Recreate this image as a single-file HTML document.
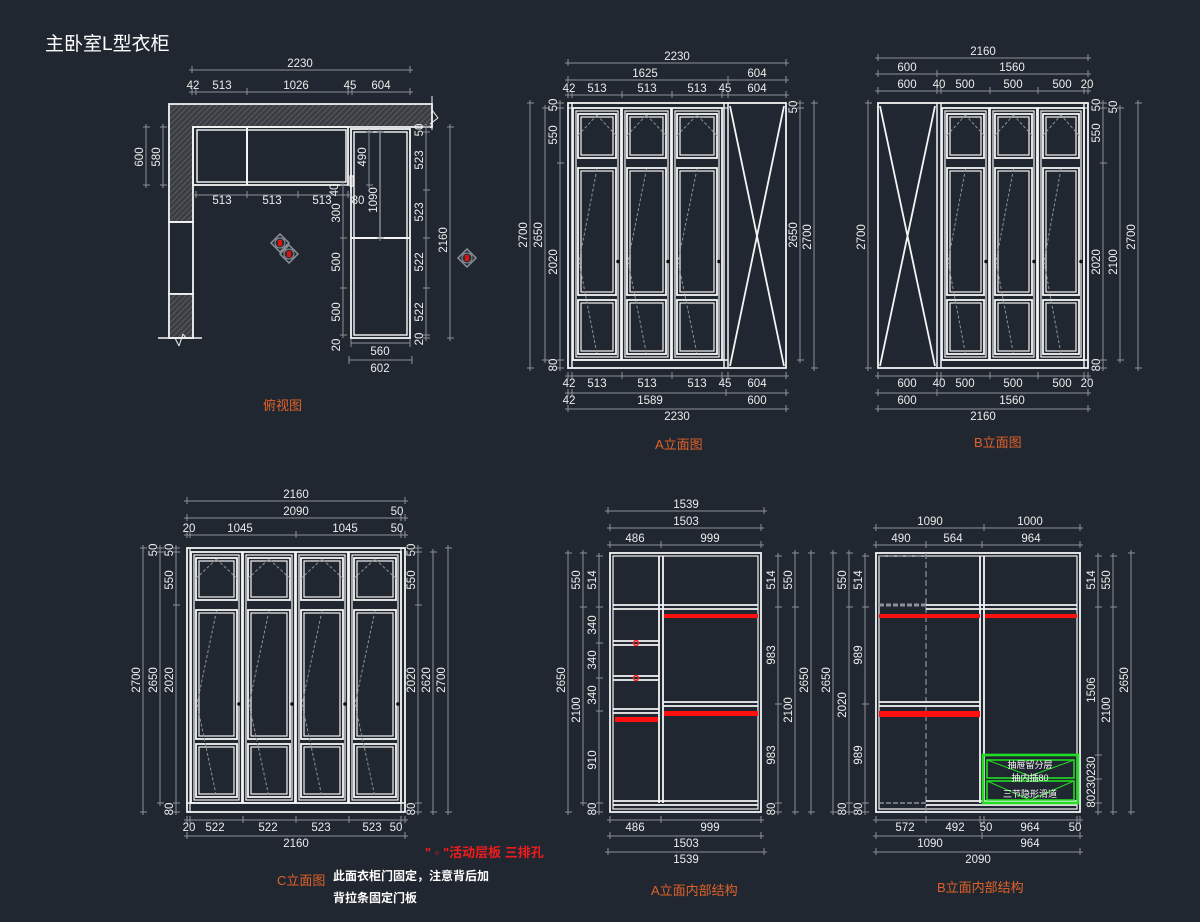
<!DOCTYPE html>
<html><head><meta charset="utf-8"><style>
html,body{margin:0;padding:0;background:#212730;width:1200px;height:922px;overflow:hidden}
svg{display:block}
text{font-family:"Liberation Sans","Noto Sans CJK SC",sans-serif}
</style></head><body>
<svg id="s" width="1200" height="922" xmlns="http://www.w3.org/2000/svg">
<defs>
<pattern id="h" width="4" height="4" patternUnits="userSpaceOnUse" patternTransform="rotate(45)">
<rect width="4" height="4" fill="#3a3d42"/><line x1="0" y1="0" x2="0" y2="4" stroke="#6a6d72" stroke-width="1.2"/></pattern>
</defs>
<rect width="1200" height="922" fill="#212730"/>
<text x="45" y="50" font-size="19" fill="#ffffff">主卧室L型衣柜</text>
<g id="g"></g>
<text x="263" y="410" font-size="13" fill="#e0622a">俯视图</text>
<text x="655" y="449" font-size="13" fill="#e0622a">A立面图</text>
<text x="974" y="447" font-size="13" fill="#e0622a">B立面图</text>
<text x="277" y="885" font-size="13" fill="#e0622a">C立面图</text>
<text x="651" y="895" font-size="13" fill="#e0622a">A立面内部结构</text>
<text x="937" y="892" font-size="13" fill="#e0622a">B立面内部结构</text>
<text x="425" y="857" font-size="13" font-weight="bold" fill="#ee1c1c">" ◦ "活动层板 三排孔</text>
<text x="333" y="880" font-size="12" font-weight="bold" fill="#ffffff">此面衣柜门固定，注意背后加</text>
<text x="333" y="902" font-size="12" font-weight="bold" fill="#ffffff">背拉条固定门板</text>
</svg>
<script>
var o='';var W='#f4f4f4',G='#8d9299',TC='#ececec';
function L(a,b,c,d,col,w,da){o+='<line x1="'+a+'" y1="'+b+'" x2="'+c+'" y2="'+d+'" stroke="'+(col||W)+'" stroke-width="'+(w||1.8)+'"'+(da?' stroke-dasharray="'+da+'"':'')+'/>';}
function R(x,y,w,h,col,sw,fill){o+='<rect x="'+x+'" y="'+y+'" width="'+w+'" height="'+h+'" fill="'+(fill||'none')+'" stroke="'+(col||W)+'" stroke-width="'+((sw||1.5)*1.2)+'"/>';}
function T(x,y,t,rot,col,fs){fs=fs||11.5;if(rot){o+='<text x="'+x+'" y="'+y+'" font-size="'+fs+'" fill="'+(col||TC)+'" text-anchor="middle" transform="rotate(-90 '+x+' '+y+')">'+t+'</text>';}else o+='<text x="'+x+'" y="'+y+'" font-size="'+fs+'" fill="'+(col||TC)+'" text-anchor="middle">'+t+'</text>';}
function hd(y,ts,labs){L(ts[0]-3,y,ts[ts.length-1]+3,y,G,1);ts.forEach(function(t){L(t,y-4,t,y+3,G,1);});labs.forEach(function(l){T(l[0],y-3,l[1]);});}
function vd(x,ts,labs){L(x,ts[0]-3,x,ts[ts.length-1]+3,G,1);ts.forEach(function(t){L(x-3,t,x+4,t,G,1);});labs.forEach(function(l){T(x-3,l[0],l[1],1);});}
function door(x,y,w,h,sp,bt){R(x,y,w,h,W,1.5);R(x+3,y+3,w-6,h-6,W,1);
 R(x+5,y+6,w-10,sp-y-11,W,1.5);R(x+8,y+9,w-16,sp-y-17,W,1);
 R(x+5,sp+5,w-10,bt-sp-8,W,1.5);R(x+8,sp+8,w-16,bt-sp-14,W,1);
 R(x+5,bt+2,w-10,y+h-bt-8,W,1.5);R(x+8,bt+5,w-16,y+h-bt-14,W,1);
 var m=(sp+y)/2;L(x+5,m,x+w/2,y+7,G,1,'3,2');L(x+w-5,m,x+w/2,y+7,G,1,'3,2');
 var mm=(sp+y+h)/2;L(x+w/2,sp+6,x+6,mm,G,1,'3,2');L(x+6,mm,x+w/2,y+h-6,G,1,'3,2');
 o+='<circle cx="'+(x+w-3)+'" cy="'+mm+'" r="1.8" fill="#111"/>';}
(function(){
o='';
o+='<path d="M169,104 H432 V127 H193 V222 H169 Z" fill="url(#h)" stroke="'+W+'" stroke-width="1.8"/>';
R(169,222,24,72,W,1.5);
o+='<rect x="169" y="294" width="24" height="44" fill="url(#h)" stroke="'+W+'" stroke-width="1.8"/>';
L(158,338,202,338,W,1.5);L(175,338,179,346,W,1);L(179,346,183,334,W,1);L(183,334,186,338,W,1);
L(432,96,432,130,W,1);L(432,110,438,118,W,1);L(438,118,430,124,W,1);
R(193,127,155,58,W,1.5);R(197,130,149,52,W,1.2);L(247,127,247,185,W,2);
R(351,129,59,209,W,1.5);R(354,132,53,203,W,1.2);L(351,238,410,238,W,2);L(380,132,380,238,W,1.2);
R(350,176,3,10,W,1);
hd(70,[192,410],[[300,'2230']]);
hd(92,[192,196,247,348,352,410],[[193,'42'],[222,'513'],[296,'1026'],[350,'45'],[381,'604']]);
hd(195,[196,247,298,348],[[222,'513'],[272,'513'],[322,'513']]);
o=o.replace(/<text x="(\d+)" y="192"/g,'<text x="$1" y="204"');
vd(146,[127,185],[[157,'600']]);vd(163,[127,185],[[157,'580']]);
vd(426,[127,132,190,238,288,335,338],[[130,'50'],[160,'523'],[212,'523'],[262,'522'],[312,'522'],[339,'20']]);
vd(450,[127,338],[[240,'2160']]);
vd(343,[185,238,288,335],[[213,'300'],[262,'500'],[312,'500'],[345,'20']]);
vd(369,[132,185],[[157,'490']]);vd(380,[132,238],[[200,'1090']]);
T(338,190,'40',1);T(358,204,'80');
L(351,343,410,343,G,1);L(351,339,351,347,G,1);L(410,339,410,347,G,1);T(380,355,'560');
L(349,360,412,360,G,1);L(349,356,349,364,G,1);L(412,356,412,364,G,1);T(380,372,'602');
[[280,243],[289,254],[467,258]].forEach(function(p){o+='<polygon points="'+(p[0]-9)+','+p[1]+' '+p[0]+','+(p[1]-9)+' '+(p[0]+9)+','+p[1]+' '+p[0]+','+(p[1]+9)+'" fill="none" stroke="'+G+'" stroke-width="1.5"/><circle cx="'+p[0]+'" cy="'+p[1]+'" r="5" fill="#2a2e35" stroke="'+G+'"/><rect x="'+(p[0]-2)+'" y="'+(p[1]-3)+'" width="4" height="6" fill="#e01010"/>';});
// A elevation
R(568,103,218,265,W,1.5);L(568,108,728,108,W,1);L(572,103,572,368,W,1.5);
door(573,108,48,252,163,298);door(622,108,49,252,163,298);door(672,108,50,252,163,298);
L(724,103,724,368,W,1.5);L(728,103,728,368,W,1.5);L(572,360,728,360,W,1.5);
L(730,106,784,366,W,1.8);L(784,106,730,366,W,1.8);
hd(63,[568,786],[[677,'2230']]);
hd(80,[568,728,786],[[645,'1625'],[757,'604']]);
hd(95,[568,572,622,672,722,728,786],[[569,'42'],[597,'513'],[647,'513'],[697,'513'],[725,'45'],[757,'604']]);
vd(530,[103,368],[[235,'2700']]);vd(545,[108,360],[[235,'2650']]);
vd(560,[103,108,163,360,368],[[105,'50'],[135,'550'],[262,'2020'],[365,'80']]);
vd(800,[103,108,360],[[107,'50'],[235,'2650']]);vd(814,[103,368],[[237,'2700']]);
hd(376,[568,572,622,672,722,728,786],[[569,'42'],[597,'513'],[647,'513'],[697,'513'],[725,'45'],[757,'604']]);
hd(393,[568,572,726,786],[[569,'42'],[650,'1589'],[757,'600']]);
hd(409,[568,786],[[677,'2230']]);
// B elevation
R(878,103,210,265,W,1.5);L(937,103,937,368,W,1.5);L(941,103,941,368,W,1.5);L(1084,103,1084,368,W,1.5);
L(880,106,935,366,W,1.8);L(935,106,880,366,W,1.8);
door(942,108,47,252,163,298);door(990,108,47,252,163,298);door(1038,108,46,252,163,298);
L(941,108,1088,108,W,1);L(941,360,1088,360,W,1.5);
hd(58,[878,1088],[[983,'2160']]);
hd(74,[878,937,1088],[[907,'600'],[1012,'1560']]);
hd(91,[878,937,941,990,1038,1084,1088],[[907,'600'],[939,'40'],[965,'500'],[1013,'500'],[1062,'500'],[1087,'20']]);
vd(868,[103,368],[[237,'2700']]);
vd(1103,[103,108,163,360,368],[[105,'50'],[133,'550'],[262,'2020'],[365,'80']]);
vd(1120,[108,360],[[107,'50'],[262,'2100']]);vd(1138,[103,368],[[237,'2700']]);
hd(376,[878,937,941,990,1038,1084,1088],[[907,'600'],[939,'40'],[965,'500'],[1013,'500'],[1062,'500'],[1087,'20']]);
hd(393,[878,937,1088],[[907,'600'],[1012,'1560']]);
hd(409,[878,1088],[[983,'2160']]);
// C elevation
R(187,548,218,264,W,1.5);L(190,548,190,812,W,1.2);L(401,548,401,812,W,1.2);
door(191,552,51,251,605,742);door(243,552,52,251,605,742);door(296,552,52,251,605,742);door(349,552,52,251,605,742);
L(187,803,405,803,W,1.5);
hd(501,[187,405],[[296,'2160']]);
hd(518,[187,401,405],[[296,'2090'],[397,'50']]);
hd(535,[187,190,296,401,405],[[189,'20'],[240,'1045'],[345,'1045'],[397,'50']]);
vd(143,[548,812],[[680,'2700']]);vd(160,[548,552,803],[[550,'50'],[680,'2650']]);
vd(176,[548,552,605,803,812],[[550,'50'],[580,'550'],[680,'2020'],[809,'80']]);
vd(418,[548,552,605,803,812],[[550,'50'],[580,'550'],[680,'2020'],[809,'80']]);
vd(433,[552,812],[[680,'2620']]);vd(448,[548,812],[[680,'2700']]);
hd(820,[187,190,243,296,349,401,405],[[189,'20'],[215,'522'],[268,'522'],[321,'523'],[372,'523'],[396,'50']]);
hd(836,[187,405],[[296,'2160']]);
// A interior
R(610,553,151,259,W,1.5);R(613,556,145,253,W,1);
L(659,556,659,803,W,1.8);L(663,556,663,803,W,1.8);
L(613,605,758,605);L(613,609,758,609);
L(613,641,659,641);L(613,645,659,645);
L(613,676,659,676);L(613,680,659,680);
L(613,709,659,709);L(613,713,659,713);
L(663,702,758,702);L(663,706,758,706);
L(613,801,758,801);L(613,805,758,805);
o+='<rect x="664" y="614" width="94" height="4" fill="#ff1010"/><rect x="664" y="711" width="94" height="5" fill="#ff1010"/><rect x="615" y="717" width="43" height="5" fill="#ff1010"/>';
o+='<circle cx="636" cy="643" r="2.5" fill="none" stroke="#ff2020" stroke-width="1.5"/><circle cx="636" cy="678" r="2.5" fill="none" stroke="#ff2020" stroke-width="1.5"/>';
hd(511,[608,764],[[686,'1539']]);hd(528,[610,761],[[686,'1503']]);hd(545,[610,661,761],[[635,'486'],[710,'999']]);
vd(568,[553,812],[[680,'2650']]);vd(583,[553,607,803],[[580,'550'],[710,'2100']]);
vd(599,[556,607,643,678,711,803,812],[[580,'514'],[625,'340'],[660,'340'],[695,'340'],[760,'910'],[809,'80']]);
vd(778,[556,607,704,803,812],[[580,'514'],[655,'983'],[755,'983'],[809,'80']]);
vd(795,[553,607,812],[[580,'550'],[710,'2100']]);vd(811,[553,812],[[680,'2650']]);
hd(820,[610,661,761],[[635,'486'],[710,'999']]);hd(836,[610,761],[[686,'1503']]);hd(852,[608,764],[[686,'1539']]);
// B interior
R(876,553,204,259,W,1.5);R(879,556,198,253,W,1);
L(926,553,926,812,G,1.2,'6,3');L(879,556,926,556,G,1.5,'6,3');
L(980,556,980,803);L(984,556,984,803);
L(879,605,926,605,G,3,'5,2');L(926,605,1077,605);L(926,609,1077,609);
L(879,702,980,702);L(879,706,980,706);
L(926,801,1077,801);L(926,805,1077,805);L(879,803,926,803,G,1.5,'5,2');
o+='<rect x="879" y="614" width="101" height="4" fill="#ff1010"/><rect x="985" y="614" width="92" height="4" fill="#ff1010"/><rect x="879" y="711" width="101" height="6" fill="#ff1010"/>';
var gC='#22dd22';R(983,755,95,48,gC,2.2);R(987,760,87,18,gC,1.3);R(987,781,87,19,gC,1.3);
L(987,760,1030,776,gC,1);L(1074,760,1030,776,gC,1);L(987,781,1030,800,gC,1);L(1074,781,1030,800,gC,1);
T(1030,768,'抽屉留分层',0,'#ffffff',9);T(1030,781,'抽内插80',0,'#ffffff',9);T(1030,797,'三节隐形滑道',0,'#ffffff',9);
hd(528,[876,984,1080],[[930,'1090'],[1030,'1000']]);
hd(545,[876,926,982,1080],[[901,'490'],[953,'564'],[1031,'964']]);
vd(833,[553,812],[[680,'2650']]);vd(849,[553,607,803,812],[[580,'550'],[705,'2020'],[809,'80']]);
vd(865,[556,607,704,803,812],[[580,'514'],[655,'989'],[755,'989'],[809,'80']]);
vd(1098,[556,607,755,779,803,812],[[580,'514'],[690,'1506'],[782,'80230230']]);
vd(1113,[556,607,812],[[580,'550'],[710,'2100']]);vd(1131,[553,812],[[680,'2650']]);
hd(820,[876,926,980,984,1077,1080],[[905,'572'],[955,'492'],[986,'50'],[1030,'964'],[1075,'50']]);
hd(836,[876,982,1080],[[930,'1090'],[1030,'964']]);hd(852,[876,1080],[[978,'2090']]);
document.getElementById('g').innerHTML=o;
var ts=document.querySelectorAll('#g text');
ts.forEach(function(t){var y=+t.getAttribute('y');if(!t.getAttribute('transform')){
 if([373,390,406,817,833,849].indexOf(y)>=0)t.setAttribute('y',y+14);}});
})();
</script>
</body></html>
